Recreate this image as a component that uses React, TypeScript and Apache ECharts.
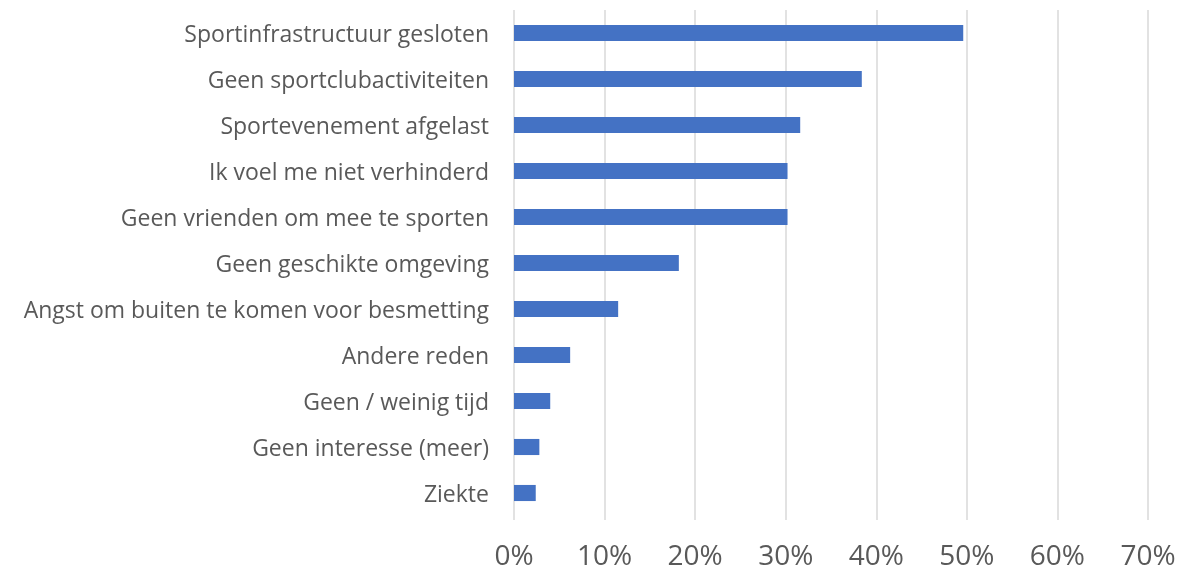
import React, { useEffect, useRef } from "react";
import * as echarts from "echarts";

const categories = [
  "Sportinfrastructuur gesloten",
  "Geen sportclubactiviteiten",
  "Sportevenement afgelast",
  "Ik voel me niet verhinderd",
  "Geen vrienden om mee te sporten",
  "Geen geschikte omgeving",
  "Angst om buiten te komen voor besmetting",
  "Andere reden",
  "Geen / weinig tijd",
  "Geen interesse (meer)",
  "Ziekte",
];

const values = [49.6, 38.4, 31.6, 30.2, 30.2, 18.2, 11.5, 6.2, 4.0, 2.8, 2.4];

const xTicks = [0, 10, 20, 30, 40, 50, 60, 70];

export default function App() {
  const ref = useRef<HTMLDivElement>(null);
  useEffect(() => {
    if (!ref.current) return;
    const chart = echarts.init(ref.current, undefined, { renderer: "svg" });
    chart.setOption({
      animation: false,
      grid: { left: 514, right: 55, top: 10, bottom: 56, containLabel: false },
      xAxis: {
        type: "value",
        min: xTicks[0],
        max: xTicks[xTicks.length - 1],
        interval: 10,
        axisLine: { show: false },
        axisTick: { show: true, length: 4, lineStyle: { color: "#d9d9d9", width: 1.5 } },
        splitLine: { show: true, lineStyle: { color: "#d9d9d9", width: 1.5 } },
        axisLabel: {
          formatter: (v: number) => `${v}%`,
          color: "#595959",
          fontSize: 28,
          fontFamily: "Open Sans",
          margin: 24,
        },
      },
      yAxis: {
        type: "category",
        data: categories,
        inverse: true,
        axisLine: { show: false },
        axisTick: { show: false },
        axisLabel: {
          color: "#595959",
          fontSize: 23,
          fontFamily: "Open Sans",
          margin: 25,
        },
      },
      series: [
        {
          type: "bar",
          data: values,
          barCategoryGap: "65%",
          itemStyle: { color: "#4472c4" },
        },
      ],
    });
    return () => chart.dispose();
  }, []);
  return (
    <div
      ref={ref}
      style={{ position: "fixed", left: 0, top: 0, width: 1203, height: 572 }}
    />
  );
}
